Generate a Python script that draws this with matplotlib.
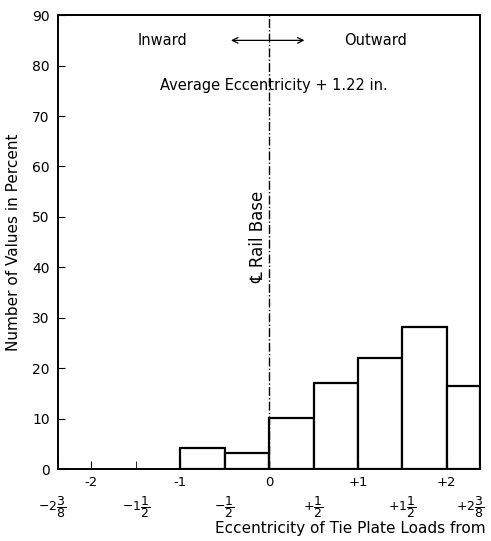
import matplotlib
matplotlib.use("Agg")
import matplotlib.pyplot as plt
import matplotlib.transforms as mtransforms

# bin edges (in.) and percentage of values in each bin
bin_left = [-1.0, -0.5, 0.0, 0.5, 1.0, 1.5, 2.0]
bin_width = [0.5, 0.5, 0.5, 0.5, 0.5, 0.5, 0.375]
percent = [4.2, 3.2, 10.1, 17.1, 22.0, 28.2, 16.5]

major_ticks = [-2, -1, 0, 1, 2]
major_labels = ["-2", "-1", "0", "+1", "+2"]
minor_ticks = [-2.375, -1.5, -0.5, 0.5, 1.5, 2.375]
minor_labels = [r"$-2\dfrac{3}{8}$", r"$-1\dfrac{1}{2}$", r"$-\dfrac{1}{2}$",
                r"$+\dfrac{1}{2}$", r"$+1\dfrac{1}{2}$", r"$+2\dfrac{3}{8}$"]
y_ticks = [0, 10, 20, 30, 40, 50, 60, 70, 80, 90]

plt.rcParams["mathtext.fontset"] = "dejavusans"

fig = plt.figure(figsize=(4.91, 5.41), dpi=100)
ax = fig.add_axes([0.118, 0.133, 0.860, 0.839])

ax.bar(bin_left, percent, width=bin_width, align="edge",
       facecolor="white", edgecolor="black", linewidth=1.6)

ax.axvline(0, color="black", linewidth=1.0, linestyle="-.")

ax.set_xlim(-2.375, 2.375)
ax.set_ylim(0, 90)

ax.set_xticks(major_ticks)
ax.set_xticklabels(major_labels, fontsize=9.5)
ax.set_xticks(minor_ticks, minor=True)
ax.set_xticklabels(minor_labels, minor=True, fontsize=9)
ax.tick_params(axis="x", which="major", direction="in", length=6, pad=5)
ax.tick_params(axis="x", which="minor", direction="in", length=6, pad=18)
ax.set_yticks(y_ticks)
ax.tick_params(axis="y", direction="in", length=5, labelsize=10, pad=6)

# pull the end labels in a little so they stay on the page
minor_lbls = ax.get_xticklabels(minor=True)
shift_l = mtransforms.ScaledTranslation(-4 / 72, 0, fig.dpi_scale_trans)
shift_r = mtransforms.ScaledTranslation(-7 / 72, 0, fig.dpi_scale_trans)
minor_lbls[0].set_transform(minor_lbls[0].get_transform() + shift_l)
minor_lbls[-1].set_transform(minor_lbls[-1].get_transform() + shift_r)

for s in ax.spines.values():
    s.set_linewidth(1.4)

ax.set_ylabel("Number of Values in Percent", fontsize=11, labelpad=8)
fig.text(0.99, 0.01, "Eccentricity of Tie Plate Loads from",
         ha="right", va="bottom", fontsize=11)

ax.text(-1.2, 85, "Inward", ha="center", va="center", fontsize=10.5)
ax.text(1.2, 85, "Outward", ha="center", va="center", fontsize=10.5)
ax.annotate("", xy=(-0.46, 85), xytext=(0.43, 85),
            arrowprops=dict(arrowstyle="<->", color="black", lw=0.9))
ax.text(0.05, 76, "Average Eccentricity + 1.22 in.", ha="center",
        va="center", fontsize=10.5)
ax.text(-0.12, 46, "\u2104 Rail Base", rotation=90, ha="center",
        va="center", fontsize=12)

fig.savefig("out.png", dpi=100)
